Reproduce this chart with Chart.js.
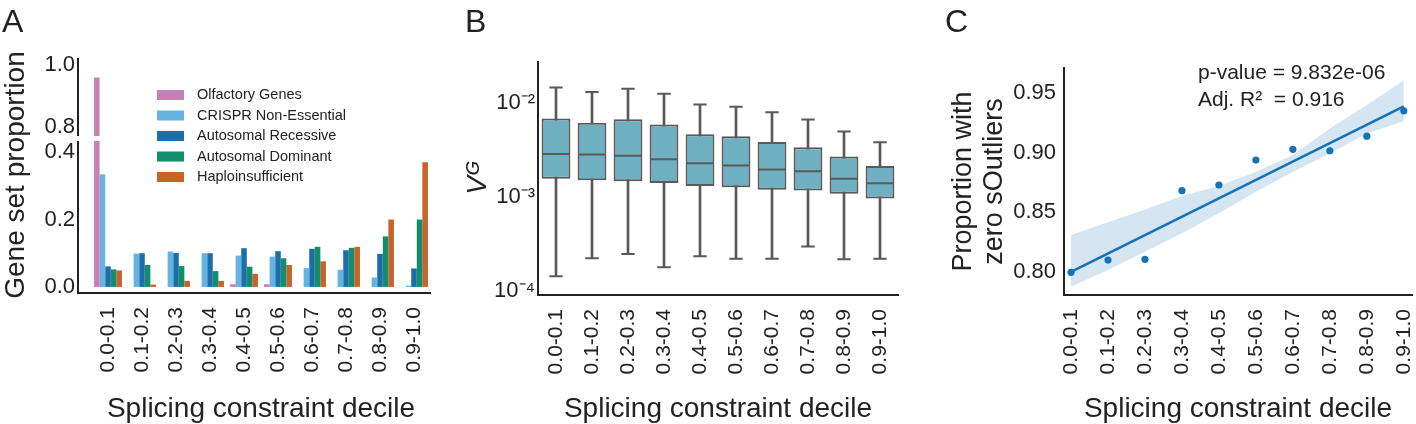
<!DOCTYPE html>
<html lang="en">
<head>
<meta charset="UTF-8">
<title>Splicing constraint deciles</title>
<script src="https://cdn.jsdelivr.net/npm/chart.js"></script>
<style>
  body { margin: 0; background: #fff; }
  #fig { position: relative; width: 1416px; height: 424px; overflow: hidden; }
  .panel { position: absolute; }
</style>
</head>
<body>
<div id="fig">
  <div class="panel" style="left:0;top:0;width:460px;height:424px"><canvas id="aLow"></canvas></div>
  <div class="panel" style="left:0;top:0;width:460px;height:140px"><canvas id="aHigh"></canvas></div>
  <div class="panel" style="left:460px;top:0;width:480px;height:424px"><canvas id="boxChart"></canvas></div>
  <div class="panel" style="left:940px;top:0;width:476px;height:424px"><canvas id="regChart"></canvas></div>
</div>

<script>
// ---- data ----
const deciles = ['0.0-0.1', '0.1-0.2', '0.2-0.3', '0.3-0.4', '0.4-0.5',
                 '0.5-0.6', '0.6-0.7', '0.7-0.8', '0.8-0.9', '0.9-1.0'];

// panel A: gene set proportion per decile
const geneSets = ['Olfactory Genes', 'CRISPR Non-Essential', 'Autosomal Recessive',
                  'Autosomal Dominant', 'Haploinsufficient'];
const olfactory     = [0.96, 0, 0, 0, 0.008, 0.008, 0, 0, 0, 0];
const crisprNonEss  = [0.334, 0.099, 0.105, 0.100, 0.093, 0.090, 0.056, 0.051, 0.028, 0.004];
const autoRecessive = [0.061, 0.100, 0.101, 0.100, 0.115, 0.106, 0.113, 0.109, 0.098, 0.055];
const autoDominant  = [0.052, 0.065, 0.062, 0.047, 0.060, 0.085, 0.119, 0.116, 0.150, 0.200];
const haploinsuff   = [0.049, 0.007, 0.018, 0.018, 0.039, 0.065, 0.076, 0.119, 0.200, 0.370];
const setColors = ['#C77FB8', '#66B2E0', '#1A6FA8', '#138D6B', '#C8622B'];
const lowTicks = [0, 0.2, 0.4];
const highTicks = [0.8, 1.0];

// panel B: V^G box plots
const vgWhiskLow  = [1.44e-4, 2.24e-4, 2.48e-4, 1.80e-4, 2.35e-4, 2.21e-4, 2.21e-4, 2.98e-4, 2.19e-4, 2.21e-4];
const vgQ1        = [1.57e-3, 1.52e-3, 1.48e-3, 1.42e-3, 1.32e-3, 1.28e-3, 1.20e-3, 1.18e-3, 1.09e-3, 9.7e-4];
const vgMedian    = [2.89e-3, 2.85e-3, 2.77e-3, 2.54e-3, 2.30e-3, 2.17e-3, 1.97e-3, 1.89e-3, 1.57e-3, 1.41e-3];
const vgQ3        = [6.87e-3, 6.22e-3, 6.76e-3, 5.93e-3, 4.68e-3, 4.46e-3, 3.88e-3, 3.40e-3, 2.71e-3, 2.15e-3];
const vgWhiskHigh = [1.47e-2, 1.32e-2, 1.43e-2, 1.26e-2, 9.7e-3, 9.2e-3, 8.0e-3, 6.7e-3, 5.0e-3, 3.85e-3];
const vgTicks = [1e-4, 1e-3, 1e-2];

// panel C: proportion with zero sOutliers
const zeroOutlierProp = [0.7995, 0.8098, 0.8104, 0.8681, 0.8729, 0.8939, 0.9029, 0.9017, 0.9140, 0.9353];
const fitEnds = [0.7998, 0.9390];
const ciUpper = [0.8308, 0.8415, 0.8524, 0.8636, 0.8720, 0.8840, 0.8981, 0.9205, 0.9401, 0.9611];
const ciLower = [0.7874, 0.8014, 0.8168, 0.8323, 0.8491, 0.8672, 0.8840, 0.8995, 0.9163, 0.9266];
const propTicks = [0.80, 0.85, 0.90, 0.95];

// ---- common setup ----
const FONT = '"Liberation Sans", Arial, Helvetica, sans-serif';
const INK = '#222222';
Chart.defaults.font.family = FONT;
Chart.defaults.color = INK;
Chart.defaults.animation = false;
Chart.defaults.maintainAspectRatio = false;
Chart.defaults.plugins.legend.display = false;
Chart.defaults.plugins.tooltip.enabled = false;

function fixWidth(w) {
  return s => { s.width = w; s.paddingTop = 0; s.paddingBottom = 0; };
}
function fixHeight(h) {
  return s => { s.height = h; s.paddingLeft = 0; s.paddingRight = 0; };
}
const noGrid = { display: false, drawTicks: false };
const axisBorder = { display: true, color: INK, width: 2 };
const decileTicks = { minRotation: 90, maxRotation: 90, autoSkip: false, padding: 14, font: { size: 21 } };
const decileTitle = { display: true, text: 'Splicing constraint decile',
                      font: { size: 28, lineHeight: 1 }, padding: { top: 0, bottom: 1 } };

// free text (panel letters, shared labels, annotations)
const figText = {
  id: 'figText',
  afterDraw(chart, args, o) {
    const ctx = chart.ctx;
    (o.items || []).forEach(t => {
      ctx.save();
      ctx.font = t.font;
      ctx.fillStyle = INK;
      ctx.textAlign = t.align || 'left';
      ctx.textBaseline = t.baseline || 'middle';
      ctx.translate(t.x, t.y);
      if (t.rot) ctx.rotate(t.rot);
      ctx.fillText(t.text, 0, 0);
      ctx.restore();
    });
  }
};

// seaborn-style offset spines for panel A
const offsetAxes = {
  id: 'offsetAxes',
  afterDraw(chart, args, o) {
    const { ctx, chartArea: a } = chart;
    const x0 = a.left - o.gap;
    ctx.save();
    ctx.strokeStyle = INK;
    ctx.lineWidth = 2;
    ctx.beginPath();
    ctx.moveTo(x0, a.top);
    ctx.lineTo(x0, a.bottom);
    if (o.xLine) {
      ctx.moveTo(x0 - 1, a.bottom);
      ctx.lineTo(a.right, a.bottom);
    }
    ctx.stroke();
    ctx.restore();
  }
};

// legend for panel A
const setLegend = {
  id: 'setLegend',
  afterDraw(chart, args, o) {
    const ctx = chart.ctx;
    ctx.save();
    ctx.font = '14.5px ' + FONT;
    ctx.textBaseline = 'middle';
    chart.data.datasets.forEach((ds, k) => {
      const y = o.top + k * o.step;
      ctx.fillStyle = ds.backgroundColor;
      ctx.fillRect(o.left, y - 5, 27, 10);
      ctx.fillStyle = INK;
      ctx.fillText(ds.label, o.left + 40, y);
    });
    ctx.restore();
  }
};

function geneSetDatasets() {
  return [olfactory, crisprNonEss, autoRecessive, autoDominant, haploinsuff].map((vals, k) => ({
    label: geneSets[k],
    data: vals,
    backgroundColor: setColors[k],
    borderWidth: 0,
    categoryPercentage: 0.82,
    barPercentage: 1.0,
    clip: 0
  }));
}

// ---- panel A, lower part (0 - 0.4) ----
new Chart(document.getElementById('aLow'), {
  type: 'bar',
  data: { labels: deciles, datasets: geneSetDatasets() },
  options: {
    layout: { padding: { left: 0, top: 141, right: 29, bottom: 0 } },
    scales: {
      x: {
        grid: noGrid, border: { display: false },
        ticks: decileTicks, title: decileTitle,
        afterFit: fixHeight(131)
      },
      y: {
        min: -0.018, max: 0.433,
        grid: noGrid, border: { display: false },
        afterBuildTicks: s => { s.ticks = lowTicks.map(v => ({ value: v })); },
        ticks: { padding: 16, font: { size: 22 }, callback: v => v.toFixed(1) },
        afterFit: fixWidth(91)
      }
    },
    plugins: {
      offsetAxes: { gap: 13, xLine: true },
      setLegend: { left: 157, top: 95, step: 20.5 },
      figText: { items: [
        { text: 'Gene set proportion', x: 16, y: 175, rot: -Math.PI / 2, align: 'center', font: '28px ' + FONT }
      ] }
    }
  },
  plugins: [offsetAxes, setLegend, figText]
});

// ---- panel A, upper part (0.8 - 1.0) ----
new Chart(document.getElementById('aHigh'), {
  type: 'bar',
  data: { labels: deciles, datasets: geneSetDatasets() },
  options: {
    layout: { padding: { left: 0, top: 58, right: 29, bottom: 4 } },
    scales: {
      x: { display: false },
      y: {
        min: 0.771, max: 1.023,
        grid: noGrid, border: { display: false },
        afterBuildTicks: s => { s.ticks = highTicks.map(v => ({ value: v })); },
        ticks: { padding: 16, font: { size: 22 }, callback: v => v.toFixed(1) },
        afterFit: fixWidth(91)
      }
    },
    plugins: {
      offsetAxes: { gap: 13, xLine: false },
      figText: { items: [
        { text: 'A', x: 2, y: 32, baseline: 'alphabetic', font: '32px ' + FONT }
      ] }
    }
  },
  plugins: [offsetAxes, figText]
});

// ---- panel B: box plots on log scale ----
const SUP = { '-': '\u207B', '0': '\u2070', '1': '\u00B9', '2': '\u00B2', '3': '\u00B3', '4': '\u2074',
              '5': '\u2075', '6': '\u2076', '7': '\u2077', '8': '\u2078', '9': '\u2079' };
function powLabel(v) {
  const e = String(Math.round(Math.log10(v)));
  return '10' + e.split('').map(c => SUP[c]).join('');
}

const boxDetails = {
  id: 'boxDetails',
  afterDatasetsDraw(chart) {
    const { ctx, scales: { y } } = chart;
    const boxes = chart.getDatasetMeta(0).data;
    ctx.save();
    ctx.strokeStyle = '#595959';
    ctx.lineWidth = 2;
    ctx.beginPath();
    boxes.forEach((bar, i) => {
      const half = bar.width / 2 - 1;
      const ym = y.getPixelForValue(vgMedian[i]);
      ctx.moveTo(bar.x - half, ym);
      ctx.lineTo(bar.x + half, ym);
      [vgWhiskLow[i], vgWhiskHigh[i]].forEach(v => {
        const yc = y.getPixelForValue(v);
        ctx.moveTo(bar.x - half / 2, yc);
        ctx.lineTo(bar.x + half / 2, yc);
      });
    });
    ctx.stroke();
    ctx.restore();
  }
};

new Chart(document.getElementById('boxChart'), {
  type: 'bar',
  data: {
    labels: deciles,
    datasets: [
      {
        label: 'IQR',
        data: deciles.map((_, i) => [vgQ1[i], vgQ3[i]]),
        backgroundColor: '#6FAFC2', borderColor: '#595959', borderWidth: 2, borderSkipped: false,
        grouped: false, categoryPercentage: 0.8, barPercentage: 1.0, order: 0
      },
      {
        label: 'whiskers',
        data: deciles.map((_, i) => [vgWhiskLow[i], vgWhiskHigh[i]]),
        backgroundColor: '#595959', barThickness: 2, grouped: false, order: 1
      }
    ]
  },
  options: {
    layout: { padding: { left: 0, top: 62, right: 42, bottom: 0 } },
    scales: {
      x: {
        grid: noGrid, border: axisBorder,
        ticks: decileTicks, title: decileTitle,
        afterFit: fixHeight(129)
      },
      y: {
        type: 'logarithmic', min: 9.1e-5, max: 0.0275,
        grid: noGrid, border: axisBorder,
        afterBuildTicks: s => { s.ticks = vgTicks.map(v => ({ value: v })); },
        ticks: { padding: 3, font: { size: 22 }, callback: v => powLabel(v) },
        title: { display: true, text: 'V\u1D33', font: { size: 28, style: 'italic', lineHeight: 1 },
                 padding: { top: 4, bottom: 0 } },
        afterFit: fixWidth(78)
      }
    },
    plugins: {
      figText: { items: [
        { text: 'B', x: 5, y: 32, baseline: 'alphabetic', font: '32px ' + FONT }
      ] }
    }
  },
  plugins: [boxDetails, figText]
});

// ---- panel C: regression with confidence band ----
const C_BLUE = '#1473B5';
new Chart(document.getElementById('regChart'), {
  type: 'scatter',
  data: {
    datasets: [
      { type: 'line', label: 'CI upper', data: ciUpper.map((v, i) => ({ x: i, y: v })),
        borderWidth: 0, borderColor: 'transparent', pointRadius: 0, fill: false, order: 3 },
      { type: 'line', label: 'CI lower', data: ciLower.map((v, i) => ({ x: i, y: v })),
        borderWidth: 0, borderColor: 'transparent', pointRadius: 0, fill: '-1',
        backgroundColor: 'rgba(20,115,181,0.18)', order: 2 },
      { type: 'line', label: 'fit', data: [{ x: 0, y: fitEnds[0] }, { x: 9, y: fitEnds[1] }],
        borderColor: C_BLUE, borderWidth: 2.6, pointRadius: 0, fill: false, order: 1 },
      { label: 'decile', data: zeroOutlierProp.map((v, i) => ({ x: i, y: v })),
        backgroundColor: C_BLUE, borderWidth: 0, pointRadius: 3.6, order: 0 }
    ]
  },
  options: {
    layout: { padding: { left: 0, top: 68, right: 0, bottom: 0 } },
    scales: {
      x: {
        type: 'linear', min: -0.19, max: 9.222,
        grid: noGrid, border: axisBorder,
        afterBuildTicks: s => { s.ticks = deciles.map((_, i) => ({ value: i })); },
        ticks: Object.assign({}, decileTicks, { callback: v => deciles[v] }),
        title: decileTitle,
        afterFit: fixHeight(129)
      },
      y: {
        min: 0.7804, max: 0.9713,
        grid: noGrid, border: axisBorder,
        afterBuildTicks: s => { s.ticks = propTicks.map(v => ({ value: v })); },
        ticks: { padding: 8, font: { size: 22 }, callback: v => v.toFixed(2) },
        title: { display: true, text: ['Proportion with', 'zero sOutliers'],
                 font: { size: 27, lineHeight: 1.15 }, padding: { top: 8, bottom: 0 } },
        afterFit: fixWidth(124)
      }
    },
    plugins: {
      figText: { items: [
        { text: 'C', x: 5, y: 32, baseline: 'alphabetic', font: '32px ' + FONT },
        { text: 'p-value = 9.832e-06', x: 258, y: 73, font: '21px ' + FONT },
        { text: 'Adj. R\u00B2  = 0.916', x: 258, y: 100, font: '21px ' + FONT }
      ] }
    }
  },
  plugins: [figText]
});
</script>
</body>
</html>
